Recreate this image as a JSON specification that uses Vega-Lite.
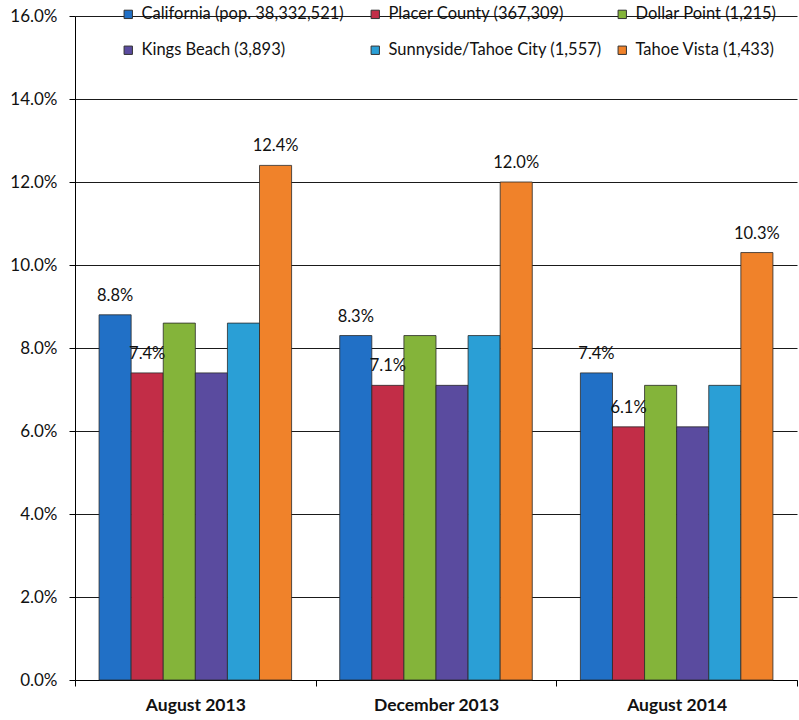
{
  "$schema": "https://vega.github.io/schema/vega-lite/v6.json",
  "width": 722,
  "height": 664,
  "autosize": {"type": "none"},
  "padding": {"left": 75, "top": 16, "right": 2, "bottom": 40},
  "background": "white",
  "config": {
    "font": "Lato",
    "view": {"stroke": null}
  },
  "data": {
    "values": [
      {"period": "August 2013", "series": "California (pop. 38,332,521)", "rate": 8.8},
      {"period": "August 2013", "series": "Placer County (367,309)", "rate": 7.4},
      {"period": "August 2013", "series": "Dollar Point (1,215)", "rate": 8.6},
      {"period": "August 2013", "series": "Kings Beach (3,893)", "rate": 7.4},
      {"period": "August 2013", "series": "Sunnyside/Tahoe City (1,557)", "rate": 8.6},
      {"period": "August 2013", "series": "Tahoe Vista (1,433)", "rate": 12.4},
      {"period": "December 2013", "series": "California (pop. 38,332,521)", "rate": 8.3},
      {"period": "December 2013", "series": "Placer County (367,309)", "rate": 7.1},
      {"period": "December 2013", "series": "Dollar Point (1,215)", "rate": 8.3},
      {"period": "December 2013", "series": "Kings Beach (3,893)", "rate": 7.1},
      {"period": "December 2013", "series": "Sunnyside/Tahoe City (1,557)", "rate": 8.3},
      {"period": "December 2013", "series": "Tahoe Vista (1,433)", "rate": 12.0},
      {"period": "August 2014", "series": "California (pop. 38,332,521)", "rate": 7.4},
      {"period": "August 2014", "series": "Placer County (367,309)", "rate": 6.1},
      {"period": "August 2014", "series": "Dollar Point (1,215)", "rate": 7.1},
      {"period": "August 2014", "series": "Kings Beach (3,893)", "rate": 6.1},
      {"period": "August 2014", "series": "Sunnyside/Tahoe City (1,557)", "rate": 7.1},
      {"period": "August 2014", "series": "Tahoe Vista (1,433)", "rate": 10.3}
    ]
  },
  "transform": [
    {
      "calculate": "indexof(['California (pop. 38,332,521)', 'Placer County (367,309)', 'Tahoe Vista (1,433)'], datum.series) >= 0 ? format(datum.rate, '.1f') + '%' : ''",
      "as": "label"
    }
  ],
  "encoding": {
    "x": {
      "field": "period",
      "type": "nominal",
      "sort": ["August 2013", "December 2013", "August 2014"],
      "scale": {"paddingInner": 0, "paddingOuter": 0},
      "axis": {
        "title": null,
        "labelAngle": 0,
        "labelFontSize": 17.5,
        "labelFontWeight": "bold",
        "labelColor": "#111",
        "labelPadding": 10,
        "domainColor": "#000",
        "tickColor": "#000",
        "tickSize": 6,
        "tickBand": "extent",
        "grid": false
      }
    },
    "xOffset": {
      "field": "series",
      "type": "nominal",
      "sort": [
        "California (pop. 38,332,521)",
        "Placer County (367,309)",
        "Dollar Point (1,215)",
        "Kings Beach (3,893)",
        "Sunnyside/Tahoe City (1,557)",
        "Tahoe Vista (1,433)"
      ],
      "scale": {"paddingInner": 0, "paddingOuter": 0.75}
    },
    "y": {
      "field": "rate",
      "type": "quantitative",
      "scale": {"domain": [0, 16], "nice": false},
      "axis": {
        "title": null,
        "values": [0, 2, 4, 6, 8, 10, 12, 14, 16],
        "labelExpr": "format(datum.value, '.1f') + '%'",
        "labelFontSize": 17,
        "labelColor": "#111",
        "labelPadding": 12,
        "grid": true,
        "gridColor": "#1a1a1a",
        "gridWidth": 1,
        "domainColor": "#000",
        "tickColor": "#000",
        "tickSize": 6
      }
    }
  },
  "layer": [
    {
      "mark": {"type": "bar", "stroke": "#2a2a2a", "strokeWidth": 0.8},
      "encoding": {
        "color": {
          "field": "series",
          "type": "nominal",
          "sort": [
            "California (pop. 38,332,521)",
            "Placer County (367,309)",
            "Dollar Point (1,215)",
            "Kings Beach (3,893)",
            "Sunnyside/Tahoe City (1,557)",
            "Tahoe Vista (1,433)"
          ],
          "scale": {
            "domain": [
              "California (pop. 38,332,521)",
              "Placer County (367,309)",
              "Dollar Point (1,215)",
              "Kings Beach (3,893)",
              "Sunnyside/Tahoe City (1,557)",
              "Tahoe Vista (1,433)"
            ],
            "range": ["#2170c6", "#c22d47", "#84b43a", "#5a4b9f", "#2a9fd6", "#f0822a"]
          },
          "legend": {
            "title": null,
            "orient": "none",
            "legendX": 45,
            "legendY": -10,
            "direction": "horizontal",
            "columns": 3,
            "gridAlign": "all",
            "columnPadding": 12,
            "rowPadding": 19,
            "padding": 0,
            "symbolType": "square",
            "symbolSize": 70,
            "symbolStrokeColor": "#333",
            "symbolStrokeWidth": 1,
            "labelFontSize": 16.5,
            "labelColor": "#111",
            "labelOffset": 5,
            "labelLimit": 300
          }
        }
      }
    },
    {
      "mark": {"type": "text", "baseline": "bottom", "dy": -11, "fontSize": 16.5, "color": "#111"},
      "encoding": {
        "text": {"field": "label"}
      }
    }
  ]
}
